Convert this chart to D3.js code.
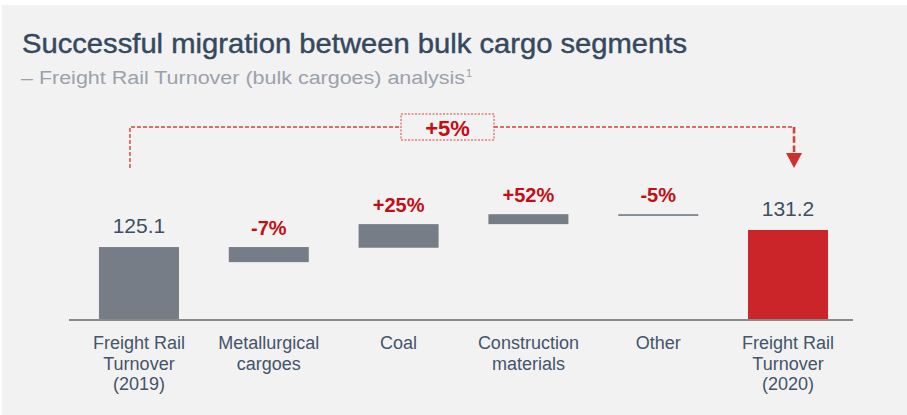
<!DOCTYPE html>
<html>
<head>
<meta charset="utf-8">
<script src="https://cdn.jsdelivr.net/npm/d3@7/dist/d3.min.js"></script>
<style>
  html, body { margin: 0; padding: 0; background: #ffffff; }
  svg { display: block; }
  text { font-family: "Liberation Sans", Arial, Helvetica, sans-serif; }
</style>
</head>
<body>
<svg id="chart" width="907" height="415"></svg>
<script>
// ---- data ----
const titleText = "Successful migration between bulk cargo segments";
const subtitleText = "\u2013 Freight Rail Turnover (bulk cargoes) analysis";
const subtitleSup = "1";
const categories = ["Freight Rail|Turnover|(2019)", "Metallurgical|cargoes", "Coal", "Construction|materials", "Other", "Freight Rail|Turnover|(2020)"];
const barKinds = ["total", "delta", "delta", "delta", "delta", "final"];
const barStart = [null, 125.1, 124.85, 133.3, 136.85, null]; // null = from axis base
const barEnd = [125.1, 119.7, 133.3, 136.85, 136.25, 131.2];
const barLabels = ["125.1", "-7%", "+25%", "+52%", "-5%", "131.2"];
const totalChangeLabel = "+5%";
const axisBase = 99;
const axisTop = 140;

// ---- setup ----
const svg = d3.select("#chart");
const W = 907, H = 415;

svg.append("rect").attr("x", 2).attr("y", 5).attr("width", W - 2).attr("height", H - 5).attr("fill", "#f2f2f2");

// title
const title = svg.append("text").attr("x", 22).attr("y", 53)
  .attr("font-size", 28.5).attr("fill", "#34495e")
  .attr("stroke", "#34495e").attr("stroke-width", 0.45)
  .text(titleText);
title.attr("textLength", 665).attr("lengthAdjust", "spacingAndGlyphs");

const sub = svg.append("text").attr("x", 21).attr("y", 84)
  .attr("font-size", 18).attr("fill", "#9ba1ab");
const subMain = sub.append("tspan").text(subtitleText);
sub.append("tspan").attr("font-size", 11).attr("dy", -7).attr("dx", 1).text(subtitleSup);

// scales
const x = d3.scaleBand().domain(d3.range(categories.length))
  .range([73, 854]).paddingInner(0.3837).paddingOuter(0.2);
const y = d3.scaleLinear().domain([axisBase, axisTop]).range([320, 205.4]);
const bw = x.bandwidth();

const rows = categories.map((c, i) => ({
  i, cat: c, kind: barKinds[i],
  s: barStart[i] == null ? axisBase : barStart[i],
  e: barEnd[i], label: barLabels[i]
}));

// bars
svg.append("g").selectAll("rect").data(rows).join("rect")
  .attr("x", d => x(d.i))
  .attr("width", bw)
  .attr("y", d => y(Math.max(d.s, d.e)))
  .attr("height", d => Math.max(1.6, Math.abs(y(d.s) - y(d.e))))
  .attr("fill", d => d.kind === "final" ? "#cc2529" : "#767d87");

// baseline
svg.append("line").attr("x1", 69).attr("x2", 853).attr("y1", 320).attr("y2", 320)
  .attr("stroke", "#8a8a8a").attr("stroke-width", 2);

// value labels
svg.append("g").selectAll("text").data(rows).join("text")
  .attr("x", d => x(d.i) + bw / 2)
  .attr("y", d => y(Math.max(d.s, d.e)) - (d.kind === "delta" ? 12 : 14))
  .attr("text-anchor", "middle")
  .attr("font-size", d => d.kind === "delta" ? 20 : 21)
  .attr("font-weight", d => d.kind === "delta" ? "bold" : "normal")
  .attr("fill", d => d.kind === "delta" ? "#c20e14" : "#3e4f62")
  .text(d => d.label);

// category labels
const catG = svg.append("g").selectAll("text").data(rows).join("text")
  .attr("x", d => x(d.i) + bw / 2)
  .attr("y", 349)
  .attr("text-anchor", "middle")
  .attr("font-size", 18)
  .attr("fill", "#44546a");
catG.selectAll("tspan").data(d => d.cat.split("|").map(t => ({ t, x: x(d.i) + bw / 2 })))
  .join("tspan")
  .attr("x", t => t.x)
  .attr("dy", (t, j) => j === 0 ? 0 : 20.5)
  .text(t => t.t);

// ---- total change annotation ----
const leftX = x(0) + bw / 2 - 9;
const rightX = x(5) + bw / 2 + 6;
const bracketY = 127;
const boxX0 = 401, boxX1 = 494, boxY0 = 114, boxY1 = 140;
const red = "#d7403d";

const ann = svg.append("g");
ann.append("path")
  .attr("d", `M${leftX},168 V${bracketY} H${boxX0}`)
  .attr("fill", "none").attr("stroke", red).attr("stroke-width", 1.4).attr("stroke-dasharray", "4,2");
ann.append("path")
  .attr("d", `M${boxX1},${bracketY} H${rightX}`)
  .attr("fill", "none").attr("stroke", red).attr("stroke-width", 1.4).attr("stroke-dasharray", "4,2");
ann.append("line")
  .attr("x1", rightX).attr("x2", rightX).attr("y1", bracketY).attr("y2", 154)
  .attr("stroke", red).attr("stroke-width", 2.6).attr("stroke-dasharray", "6.5,2.7");
ann.append("path")
  .attr("d", `M${rightX - 8},153 L${rightX + 8},153 L${rightX},168 Z`)
  .attr("fill", "#d0302c");
ann.append("rect")
  .attr("x", boxX0).attr("y", boxY0).attr("width", boxX1 - boxX0).attr("height", boxY1 - boxY0)
  .attr("fill", "none").attr("stroke", red).attr("stroke-width", 1).attr("stroke-dasharray", "2,1.5");
ann.append("text")
  .attr("x", (boxX0 + boxX1) / 2).attr("y", 136)
  .attr("text-anchor", "middle").attr("font-size", 22).attr("font-weight", "bold")
  .attr("fill", "#c20e14").text(totalChangeLabel);

// fit subtitle width to reference
const subLen = subMain.node().getComputedTextLength();
if (subLen > 0) subMain.attr("textLength", 444).attr("lengthAdjust", "spacingAndGlyphs");
</script>
</body>
</html>
